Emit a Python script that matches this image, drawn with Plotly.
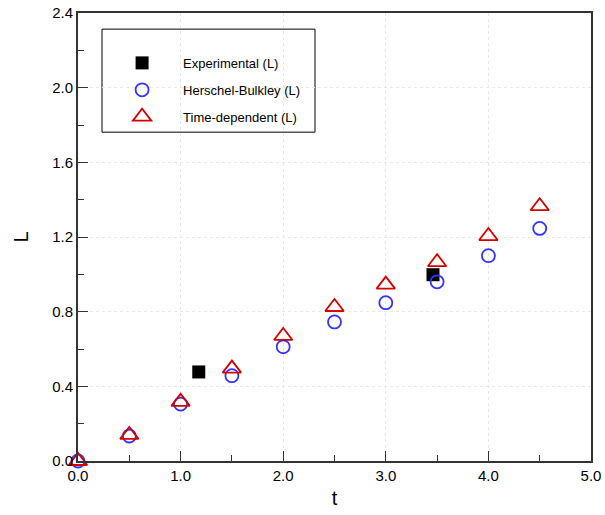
import plotly.graph_objects as go

# ---- data ----
t_model = [0.0, 0.5, 1.0, 1.5, 2.0, 2.5, 3.0, 3.5, 4.0, 4.5]
L_herschel = [0.0, 0.134, 0.305, 0.457, 0.612, 0.745, 0.848, 0.96, 1.10, 1.246]
L_timedep = [0.0, 0.14, 0.317, 0.495, 0.67, 0.825, 0.945, 1.065, 1.205, 1.365]
t_exp = [1.177, 3.46]
L_exp = [0.477, 0.998]

FONT = "Liberation Sans, Arial, Helvetica, sans-serif"

fig = go.Figure()
fig.add_trace(go.Scatter(
    x=t_exp, y=L_exp, mode="markers", name="Experimental (L)",
    legendgroup="a",
    marker=dict(symbol="square", size=13, color="black", line=dict(width=0)),
    cliponaxis=False))
fig.add_trace(go.Scatter(
    x=t_model, y=L_herschel, mode="markers", name="Herschel-Bulkley (L)",
    legendgroup="b",
    marker=dict(symbol="circle-open", size=13, color="#3333ff", line=dict(width=1.8, color="#3333ff")),
    cliponaxis=False))
fig.add_trace(go.Scatter(
    x=t_model, y=L_timedep, mode="markers", name="Time-dependent (L)",
    legendgroup="c",
    marker=dict(symbol="triangle-up-open", size=16, color="#d40000", line=dict(width=1.8, color="#d40000")),
    cliponaxis=False))

axis_common = dict(
    showline=True, linecolor="#333333", linewidth=2, mirror=True,
    ticks="inside", ticklen=10, tickwidth=1.2, tickcolor="#333333",
    showgrid=True, gridcolor="#e8e8e8", griddash="dot", gridwidth=1,
    zeroline=False, tickformat=".1f", automargin=False,
    tickfont=dict(family=FONT, size=15, color="black"),
)

fig.update_xaxes(
    range=[0, 5], dtick=1, tick0=0,
    title=dict(text="t", font=dict(family=FONT, size=20, color="black"), standoff=8),
    minor=dict(dtick=0.5, ticks="inside", ticklen=6, tickcolor="#333333", showgrid=False),
    **axis_common)
fig.update_yaxes(
    range=[0, 2.4], dtick=0.4, tick0=0,
    title=dict(text="L", font=dict(family=FONT, size=20, color="black"), standoff=18),
    minor=dict(dtick=0.2, ticks="inside", ticklen=6, tickcolor="#333333", showgrid=False),
    **axis_common)

fig.add_shape(type="rect", xref="paper", yref="paper",
              x0=0.0468, x1=0.462, y0=0.734, y1=0.964,
              line=dict(color="black", width=1), fillcolor="white", layer="below")

fig.update_layout(
    width=605, height=515,
    margin=dict(l=78, r=14, t=13, b=54),
    plot_bgcolor="white", paper_bgcolor="white",
    font=dict(family=FONT, color="black"),
    legend=dict(
        x=0.045, y=0.922, xanchor="left", yanchor="top",
        bgcolor="rgba(0,0,0,0)", borderwidth=0,
        font=dict(family=FONT, size=13, color="black"),
        itemwidth=72, tracegroupgap=7,
    ),
)

fig.write_html("out.html", config={"displayModeBar": False},
               post_script="document.body.style.margin='0';document.body.style.overflow='hidden';")
